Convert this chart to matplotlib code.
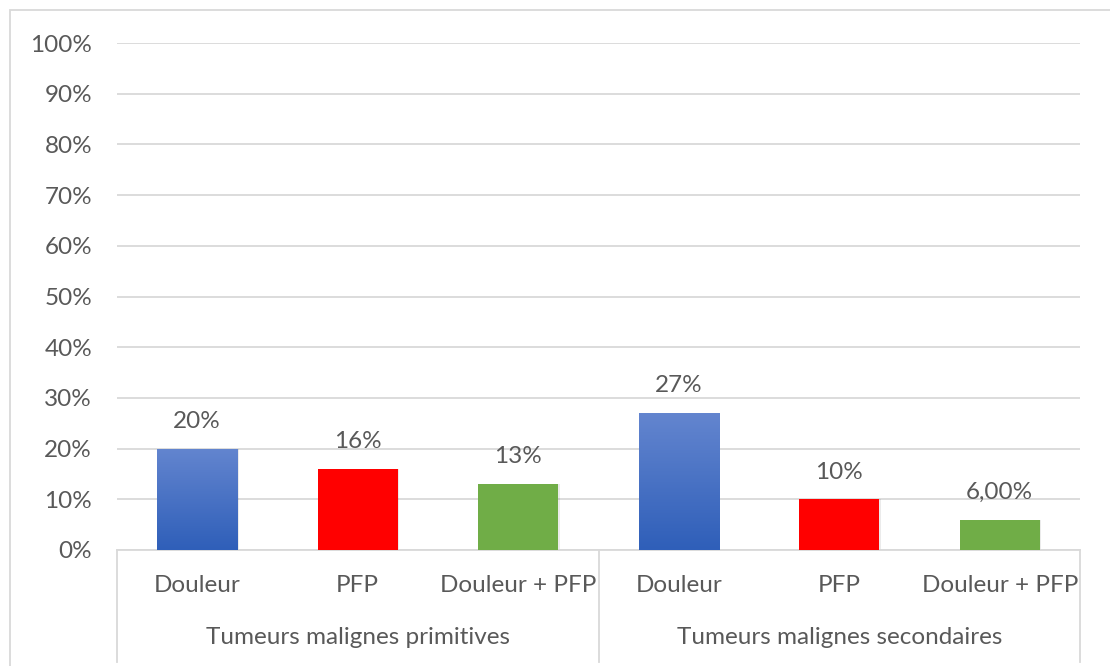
import numpy as np
import matplotlib.pyplot as plt
from matplotlib.patches import Rectangle
from matplotlib.colors import LinearSegmentedColormap
import matplotlib.transforms as mtransforms

plt.rcParams['font.family'] = ['Lato', 'DejaVu Sans']

# data
groups = ['Tumeurs malignes primitives', 'Tumeurs malignes secondaires']
cats = ['Douleur', 'PFP', 'Douleur + PFP']
values = [0.20, 0.16, 0.13, 0.27, 0.10, 0.06]
labels = ['20%', '16%', '13%', '27%', '10%', '6,00%']
colors = ['blue', '#ff0000', '#70ad47', 'blue', '#ff0000', '#70ad47']
yticks = np.arange(0, 1.01, 0.1)

txt = '#595959'
grid = '#d9d9d9'
fs = 17.5

fig = plt.figure(figsize=(11.1, 6.66), dpi=100)
ax = fig.add_axes([117 / 1110, 116 / 666, 963 / 1110, 507 / 666])

x = np.arange(len(values))
w = 0.5
blue_cmap = LinearSegmentedColormap.from_list('b', ['#2f5fb9', '#6385cf'])
for xi, v, c in zip(x, values, colors):
    # soft shadow
    ax.add_patch(Rectangle((xi - w / 2 + 0.01, 0), w, v, facecolor='#000000',
                           alpha=0.08, edgecolor='none', zorder=2))
    if c == 'blue':
        grad = np.linspace(0, 1, 100).reshape(-1, 1)
        im = ax.imshow(grad, extent=(xi - w / 2, xi + w / 2, 0, v), origin='lower',
                       cmap=blue_cmap, aspect='auto', zorder=3)
        r = Rectangle((xi - w / 2, 0), w, v, facecolor='none', edgecolor='none')
        ax.add_patch(r)
        im.set_clip_path(r)
    else:
        ax.add_patch(Rectangle((xi - w / 2, 0), w, v, facecolor=c,
                               edgecolor='none', zorder=3))

for xi, v, lab in zip(x, values, labels):
    ax.text(xi, v + 0.033, lab, ha='center', va='bottom', fontsize=fs, color=txt)

ax.set_xlim(-0.5, len(values) - 0.5)
ax.set_ylim(0, 1)
ax.set_yticks(yticks)
ax.set_yticklabels([f'{int(round(t * 100))}%' for t in yticks])
ax.yaxis.grid(True, color=grid, linewidth=1.3)
ax.set_axisbelow(True)
ax.tick_params(axis='y', length=0, pad=18, labelsize=fs, labelcolor=txt)
ax.set_xticks([])
for s in ['top', 'right', 'left']:
    ax.spines[s].set_visible(False)
ax.spines['bottom'].set_color(grid)
ax.spines['bottom'].set_linewidth(1.3)

# category axis
trans = mtransforms.blended_transform_factory(ax.transData, ax.transAxes)
for i, xi in enumerate(x):
    ax.text(xi, -35 / 507, cats[i % 3], ha='center', va='center', fontsize=fs,
            color=txt, transform=trans)
for g, name in enumerate(groups):
    ax.text(g * 3 + 1, -88 / 507, name, ha='center', va='center', fontsize=fs,
            color=txt, transform=trans)
for sx in [-0.5, 2.5, 5.5]:
    ax.plot([sx, sx], [0, -112 / 507], color=grid, linewidth=1.3,
            transform=trans, clip_on=False)

# outer chart border
fig.patches.append(Rectangle((10 / 1110, -0.05), 1.2, (656 / 666) + 0.05,
                             transform=fig.transFigure, facecolor='none',
                             edgecolor=grid, linewidth=1.3))

fig.savefig('out.png', dpi=100)
